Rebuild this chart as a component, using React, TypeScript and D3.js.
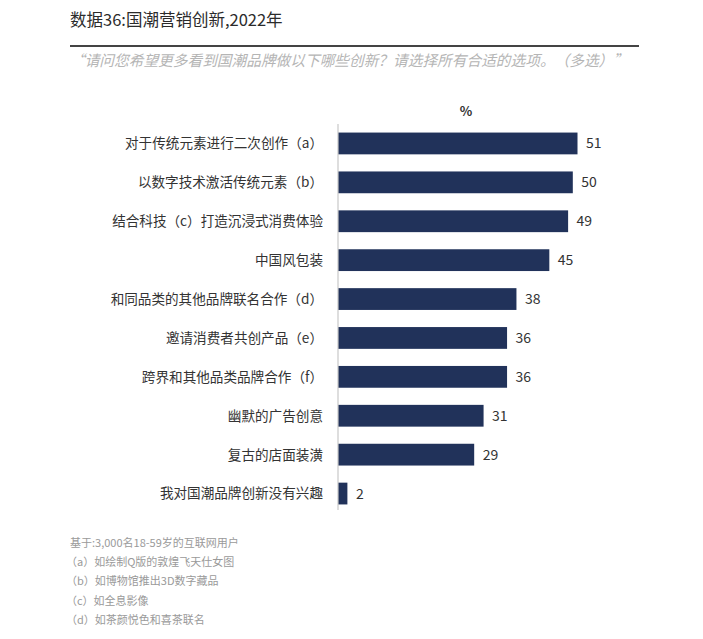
import React from "react";
import * as d3 from "d3";

const categories: string[] = [
  "对于传统元素进行二次创作（a）",
  "以数字技术激活传统元素（b）",
  "结合科技（c）打造沉浸式消费体验",
  "中国风包装",
  "和同品类的其他品牌联名合作（d）",
  "邀请消费者共创产品（e）",
  "跨界和其他品类品牌合作（f）",
  "幽默的广告创意",
  "复古的店面装潢",
  "我对国潮品牌创新没有兴趣",
];
const values: number[] = [51, 50, 49, 45, 38, 36, 36, 31, 29, 2];

const titleText = "数据36:国潮营销创新,2022年";
const subtitleText = "“请问您希望更多看到国潮品牌做以下哪些创新？请选择所有合适的选项。（多选）”";
const unitText = "%";
const footnotes: string[] = [
  "基于:3,000名18-59岁的互联网用户",
  "（a）如绘制Q版的敦煌飞天仕女图",
  "（b）如博物馆推出3D数字藏品",
  "（c）如全息影像",
  "（d）如茶颜悦色和喜茶联名",
];

const W = 703;
const H = 639;
const FONT = "'Noto Sans CJK SC', 'Noto Sans', sans-serif";

export default function App() {
  const x = d3.scaleLinear().domain([0, 51]).range([338, 577.5]);
  const y = d3
    .scaleBand<string>()
    .domain(categories)
    .range([124, 513])
    .paddingInner(0.44)
    .paddingOuter(0.22);

  return (
    <svg
      width={W}
      height={H}
      style={{ position: "absolute", left: 0, top: 0, background: "#fff", textSpacingTrim: "space-all" } as any}
      fontFamily={FONT}
    >
      <text x={70} y={26} fontSize={16.5} fill="#2b2b2b">
        {titleText}
      </text>
      <line x1={70} x2={639} y1={46} y2={46} stroke="#444" strokeWidth={2.2} />
      <text
        x={70}
        y={66}
        fontSize={15}
        fill="#b5b5b5"
        fontStyle="italic"
        textLength={558}
        lengthAdjust="spacingAndGlyphs"
      >
        {subtitleText}
      </text>

      <text x={466} y={116} fontSize={13} fill="#333" textAnchor="middle" fontWeight={600}>
        {unitText}
      </text>

      {categories.map((c, i) => (
        <g key={c}>
          <rect
            x={x(0)}
            y={y(c)!}
            width={x(values[i]) - x(0)}
            height={y.bandwidth()}
            fill="#21325a"
          />
          <text
            x={x(values[i]) + 8.5}
            y={y(c)! + y.bandwidth() / 2}
            dy="0.36em"
            fontSize={14}
            fill="#333"
          >
            {values[i]}
          </text>
          <text
            x={323}
            y={y(c)! + y.bandwidth() / 2}
            dy="0.36em"
            fontSize={13.6}
            fill="#333"
            textAnchor="end"
          >
            {c}
          </text>
        </g>
      ))}

      <line x1={338} x2={338} y1={124} y2={510} stroke="#c8c8c8" strokeWidth={1.2} />

      {footnotes.map((f, i) => (
        <text key={i} x={i === 0 ? 70 : 66} y={547 + i * 19.2} fontSize={11} fill="#9a9a9a">
          {f}
        </text>
      ))}
    </svg>
  );
}
